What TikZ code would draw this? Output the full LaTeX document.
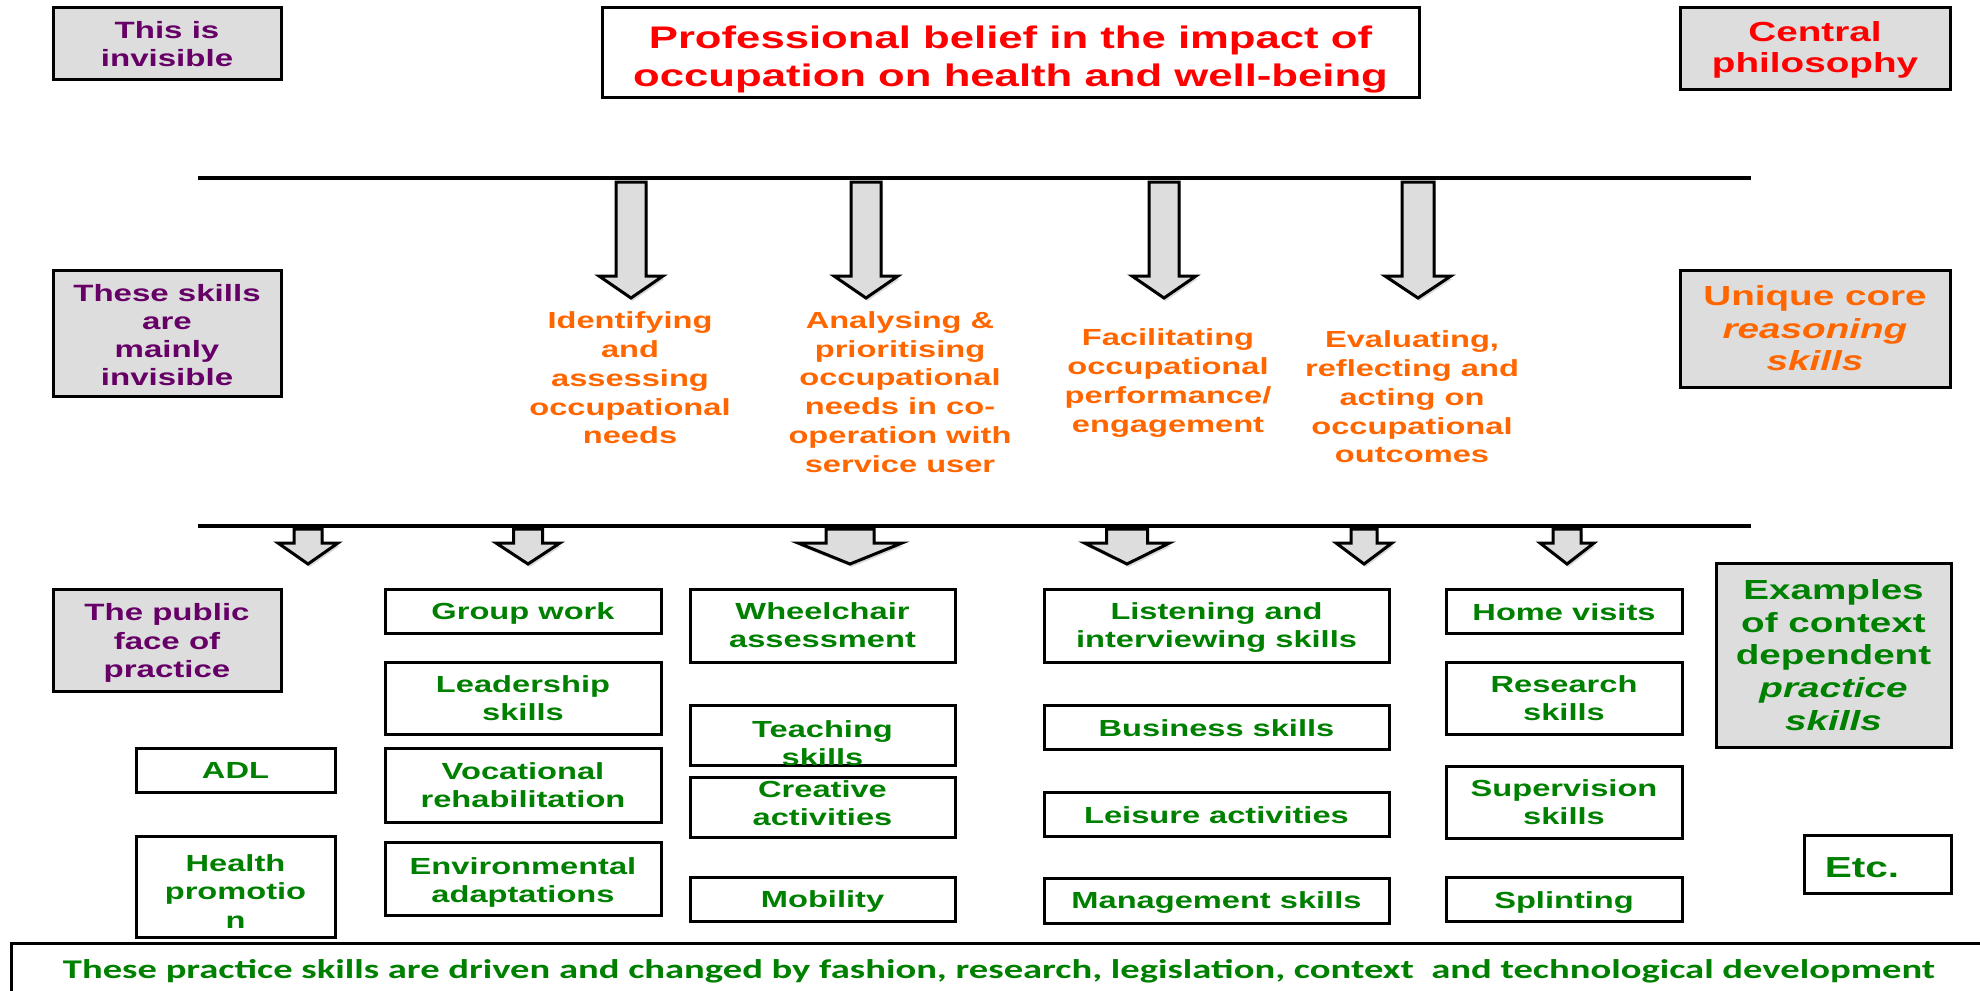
\documentclass[tikz,border=0pt]{standalone}
\usepackage{fontspec}
\setmainfont{Liberation Sans}[FakeStretch=1.4]
\newfontfamily\calib{Carlito}
\usetikzlibrary{shadows}
\definecolor{gfill}{RGB}{221,221,221}
\definecolor{cpurple}{RGB}{102,0,102}
\definecolor{cred}{RGB}{255,0,0}
\definecolor{corange}{RGB}{255,102,0}
\definecolor{cgreen}{RGB}{0,128,0}
\tikzset{
  frame/.style={draw=black, line width=1.5pt, inner sep=0pt, outer sep=0pt, align=center},
  side/.style={frame, fill=gfill},
  pur/.style={text=cpurple, font=\fontsize{11.8}{14.1}\selectfont\bfseries},
  big/.style={font=\fontsize{13.8}{16.3}\selectfont\bfseries},
  gbox/.style={frame, fill=white, text=cgreen, font=\fontsize{11.65}{14.1}\selectfont\bfseries},
  gtext/.style={inner sep=0pt, align=center, text=cgreen, font=\fontsize{11.65}{14.1}\selectfont\bfseries},
  otext/.style={inner sep=0pt, align=center, text=corange, font=\fontsize{11.65}{14.35}\selectfont\bfseries},
  rule/.style={line width=1.75pt, drop shadow={shadow xshift=0.6pt, shadow yshift=-1.2pt, opacity=0.25}},
  blockarrow/.style={draw=black, fill=gfill, line width=1.5pt, line join=miter,
     drop shadow={shadow xshift=0.8pt, shadow yshift=-1.5pt, opacity=0.3}},
}
% cx, ytop, ybase, ytip, shaft half width, head half width
\newcommand\barrow[6]{%
  \path[blockarrow] ({#1-#5},#2) -- ({#1+#5},#2) -- ({#1+#5},#3) -- ({#1+#6},#3)
    -- (#1,#4) -- ({#1-#6},#3) -- ({#1-#5},#3) -- cycle;}
% [text dy], style, name, x1, y1, x2, y2, text
\newcommand\bx[8][0]{%
  \node[#2, minimum width={(#6-#4)*0.5pt}, minimum height={(#7-#5)*0.5pt}]
    (#3) at ({(#4+#6)/2},{(#5+#7)/2}) {};
  \node[#2, draw=none, fill=none, minimum width=0pt, minimum height=0pt]
    (#3t) at ({(#4+#6)/2},{(#5+#7)/2+#1}) {#8};}
\begin{document}
\begin{tikzpicture}[x=0.5pt, y=-0.5pt]
\useasboundingbox (0,0) rectangle (1980,990);
\clip (0,0) rectangle (1980,990);

% side labels
\bx{side,pur}{inv1}{53}{8}{281}{80}{This is\\invisible}
\bx[7]{frame,fill=white,text=cred,font=\fontsize{15.6}{19}\selectfont\bfseries}{title}{602}{8}{1419}{98}{Professional belief in the impact of\\occupation on health and well-being}
\bx[1]{side,big,text=cred,font=\fontsize{13.8}{15.4}\selectfont\bfseries}{central}{1680}{8}{1950}{90}{Central\\philosophy}
\bx[2]{side,pur}{inv2}{53}{270}{281}{396}{These skills\\are\\mainly\\invisible}
\bx{side,big,text=corange}{unique}{1680}{270}{1950}{387}{Unique core\\\textit{reasoning}\\\textit{skills}}
\bx[3]{side,pur}{public}{53}{589}{281}{691}{The public\\face of\\practice}
\bx{side,big,text=cgreen}{examples}{1716}{563}{1951}{747}{Examples\\of context\\dependent\\\textit{practice}\\\textit{skills}}

% horizontal rules
\coordinate (t1) at (198,178);
\coordinate (t2) at (1751,178);
\coordinate (b1) at (198,526);
\coordinate (b2) at (1751,526);
\draw[rule] (t1) -- (t2);
\draw[rule] (b1) -- (b2);

% top block arrows
\barrow{631}{182}{276}{298}{15}{32}
\barrow{866}{182}{276}{298}{15}{32}
\barrow{1164}{182}{276}{298}{15}{32}
\barrow{1418}{182}{276}{298}{16}{33}

% reasoning skills
\node[otext] (id) at (630,378) {Identifying\\and\\assessing\\occupational\\needs};
\node[otext] (an) at (900,392) {Analysing \&\\prioritising\\occupational\\needs in co-\\operation with\\service user};
\node[otext] (fa) at (1168,383) {Facilitating\\occupational\\performance/\\engagement};
\node[otext] (ev) at (1412,397) {Evaluating,\\reflecting and\\acting on\\occupational\\outcomes};

% bottom block arrows
\barrow{308}{529}{543}{564}{14}{30}
\barrow{528}{529}{543}{564}{14.5}{32}
\barrow{850}{529}{543}{564}{24}{52}
\barrow{1127}{529}{543}{564}{20.5}{42.5}
\barrow{1364}{529}{543}{564}{13}{28}
\barrow{1567}{529}{543}{564}{14}{27}

% practice skills
\bx{gbox}{adl}{136}{748}{335}{792}{ADL}
\bx[5]{gbox}{health}{136}{836}{335}{937}{Health\\promotio\\n}
\bx[2]{gbox}{group}{385}{589}{661}{633}{Group work}
\bx{gbox}{lead}{385}{662}{661}{734}{Leadership\\skills}
\bx{gbox}{voc}{385}{748}{661}{822}{Vocational\\rehabilitation}
\bx[4]{gbox}{env}{385}{842}{661}{915}{Environmental\\adaptations}
\bx{gbox}{wheel}{690}{589}{955}{662}{Wheelchair\\assessment}
\bx[8]{gbox}{teach}{690}{705}{955}{765}{Teaching\\skills}
\bx[-4]{gbox}{creat}{690}{777}{955}{837}{Creative\\activities}
\bx[2]{gbox}{mob}{690}{877}{955}{921}{Mobility}
\bx[2]{gbox}{listen}{1044}{589}{1389}{662}{Listening and\\interviewing skills}
\bx[1]{gbox}{bus}{1044}{705}{1389}{749}{Business skills}
\bx[1]{gbox}{leis}{1044}{792}{1389}{836}{Leisure activities}
\bx[2]{gbox}{mgmt}{1044}{878}{1389}{923}{Management skills}
\bx[1]{gbox}{home}{1446}{589}{1682}{633}{Home visits}
\bx{gbox}{resea}{1446}{662}{1682}{734}{Research\\skills}
\bx{gbox}{superv}{1446}{766}{1682}{838}{Supervision\\skills}
\bx[4]{gbox}{splint}{1446}{877}{1682}{921}{Splinting}
\bx{gbox}{etcbox}{1804}{835}{1951}{893}{}
\node[gtext, font=\fontsize{14.5}{17}\selectfont\bfseries] (etcT) at (1862,868) {Etc.};

% footer
\bx{frame,fill=white}{footbox}{11}{943}{1995}{1005}{}
\node[inner sep=0pt, text=cgreen] (foot) at (999,971)
  {\resizebox{936pt}{\height}{\calib\fontsize{13.5}{16}\selectfont\bfseries These practice skills are driven and changed by fashion, research, legislation, context\ \ and technological development}};
\end{tikzpicture}
\end{document}
